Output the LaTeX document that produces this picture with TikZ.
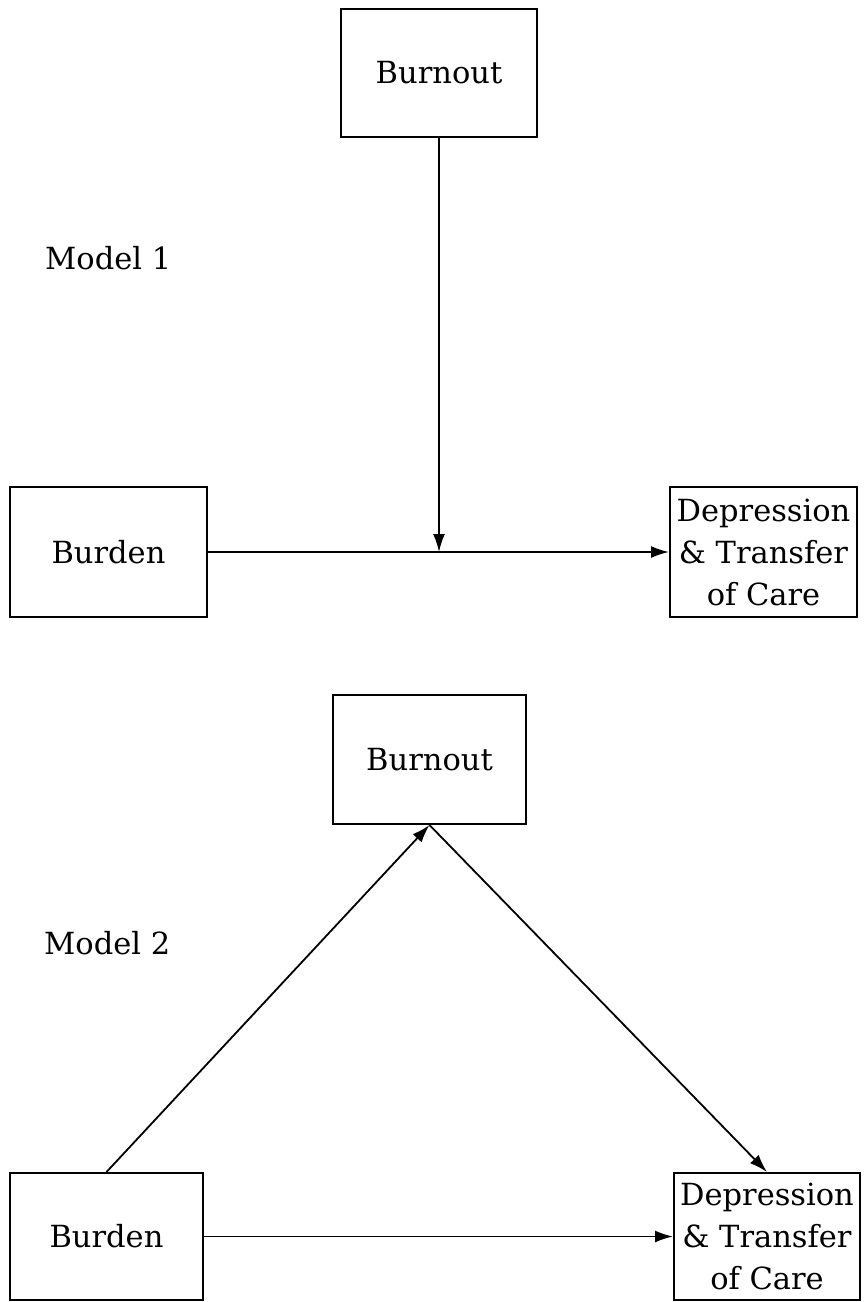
\documentclass[tikz,border=0pt]{standalone}
\usepackage{fontspec}
\setmainfont{DejaVu Serif}
\usetikzlibrary{arrows.meta}
\begin{document}
\begin{tikzpicture}[x=1pt,y=-1pt,
  box/.style={draw,line width=2pt,inner sep=0pt,align=center,font=\fontsize{30.5}{42}\selectfont},
  lbl/.style={inner sep=0pt,anchor=west,font=\fontsize{30.5}{42}\selectfont},
  conn/.style={line width=1.8pt,-{Latex[length=18pt,width=12pt]}}]
\useasboundingbox (0,0) rectangle (864,1302);
% Model 1
\node[box,minimum width=196pt,minimum height=128pt] (bo1) at (439,73) {Burnout};
\node[box,minimum width=197pt,minimum height=130pt] (bu1) at (108.5,552) {Burden};
\node[box,minimum width=187pt,minimum height=130pt] (de1) at (763.5,552) {Depression\\ \& Transfer\\ of Care};
\node[lbl] (m1) at (45,258) {Model 1};
\draw[conn] (bu1.east) -- (de1.west);
\draw[conn] (bo1.south) -- (bo1.south |- bu1.east);
% Model 2
\node[box,minimum width=193pt,minimum height=129pt] (bo2) at (429.5,759.5) {Burnout};
\node[box,minimum width=193pt,minimum height=127pt] (bu2) at (106.5,1236.5) {Burden};
\node[box,minimum width=186pt,minimum height=127pt] (de2) at (767,1236.5) {Depression\\ \& Transfer\\ of Care};
\node[lbl] (m2) at (44,943) {Model 2};
\draw[conn] (bu2.east) -- (de2.west);
\draw[conn] (bu2.north) -- (bo2.south);
\draw[conn] (bo2.south) -- (de2.north);
\end{tikzpicture}
\end{document}
